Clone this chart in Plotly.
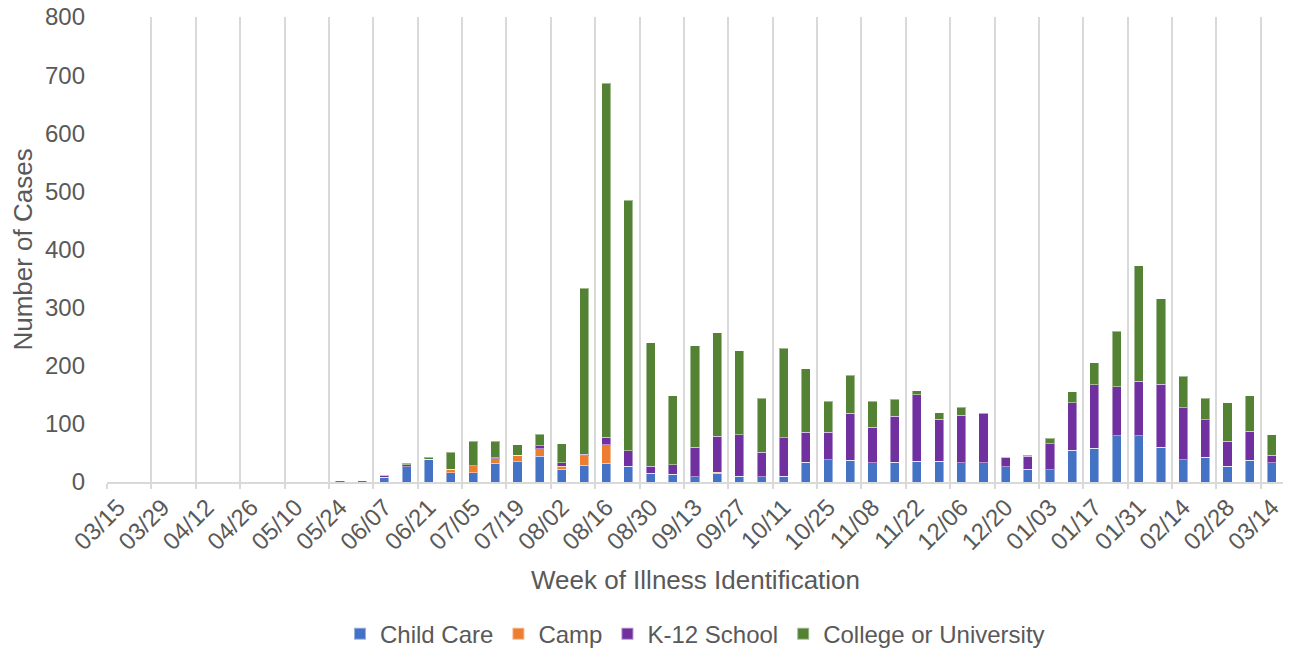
import plotly.graph_objects as go

weeks = ["03/15", "03/22", "03/29", "04/05", "04/12", "04/19", "04/26", "05/03", "05/10", "05/17",
         "05/24", "05/31", "06/07", "06/14", "06/21", "06/28", "07/05", "07/12", "07/19", "07/26",
         "08/02", "08/09", "08/16", "08/23", "08/30", "09/06", "09/13", "09/20", "09/27", "10/04",
         "10/11", "10/18", "10/25", "11/01", "11/08", "11/15", "11/22", "11/29", "12/06", "12/13",
         "12/20", "12/27", "01/03", "01/10", "01/17", "01/24", "01/31", "02/07", "02/14", "02/21",
         "02/28", "03/07", "03/14"]

child_care = [0, 0, 0, 0, 0, 0, 0, 0, 0, 0,
              2, 2, 8, 26, 39, 16, 16, 32, 35, 44,
              22, 29, 32, 27, 14, 13, 9, 15, 10, 9,
              10, 34, 38, 37, 33, 34, 36, 36, 33, 33,
              26, 22, 21, 55, 58, 80, 80, 60, 38, 43,
              27, 37, 33]

camp = [0, 0, 0, 0, 0, 0, 0, 0, 0, 0,
        0, 0, 0, 0, 0, 6, 12, 8, 11, 13,
        5, 16, 32, 0, 1, 0, 0, 2, 0, 0,
        0, 0, 0, 0, 0, 0, 0, 0, 0, 0,
        0, 0, 0, 0, 0, 0, 0, 0, 0, 0,
        0, 0, 0]

k12_school = [0, 0, 0, 0, 0, 0, 0, 0, 0, 0,
              0, 0, 4, 4, 0, 0, 0, 2, 0, 5,
              6, 3, 13, 27, 12, 17, 51, 62, 71, 42,
              66, 52, 48, 81, 61, 79, 114, 72, 82, 84,
              17, 22, 45, 81, 109, 84, 93, 108, 90, 64,
              43, 50, 13]

college = [0, 0, 0, 0, 0, 0, 0, 0, 0, 0,
           0, 0, 0, 2, 4, 29, 42, 28, 18, 20,
           33, 285, 609, 431, 213, 118, 174, 178, 145, 93,
           154, 109, 53, 66, 45, 29, 7, 11, 14, 1,
           0, 2, 9, 19, 38, 95, 199, 147, 54, 37,
           66, 61, 35]

series = [
    ("Child Care", child_care, "#4472C4"),
    ("Camp", camp, "#ED7D31"),
    ("K-12 School", k12_school, "#7030A0"),
    ("College or University", college, "#548235"),
]

TXT = "#595959"
GRID = "#D9D9D9"
FONT = "Liberation Sans, Arial, sans-serif"

fig = go.Figure()
for name, vals, color in series:
    fig.add_trace(go.Bar(
        x=weeks, y=vals, name=name,
        marker=dict(color=color, line=dict(color="rgba(255,255,255,0.45)", width=1)),
    ))

fig.update_layout(
    barmode="stack",
    bargap=0.59,
    width=1291, height=652,
    margin=dict(l=107, r=8, t=17, b=170, autoexpand=False),
    paper_bgcolor="white", plot_bgcolor="white",
    font=dict(family=FONT, color=TXT, size=24),
    showlegend=True,
    legend=dict(orientation="h", x=0.5, xanchor="center", y=-0.327, yanchor="middle",
                font=dict(size=24, color=TXT), traceorder="normal",
                itemsizing="constant", itemwidth=30),
    xaxis=dict(
        type="category", categoryorder="array", categoryarray=weeks,
        tickmode="linear", tick0=0, dtick=2, tickson="boundaries",
        tickangle=-45, tickfont=dict(size=24, color=TXT),
        showgrid=True, gridcolor=GRID, gridwidth=1.5,
        showline=True, linecolor=GRID, linewidth=1.5,
        ticks="outside", ticklen=5, tickcolor=GRID, tickwidth=1.5,
        zeroline=False, automargin=False,
    ),
    yaxis=dict(
        range=[0, 800], tickmode="linear", tick0=0, dtick=100,
        showgrid=False, zeroline=False, showline=False, automargin=False,
        tickfont=dict(size=24, color=TXT), ticks="", ticklabelstandoff=21,
    ),
    annotations=[
        dict(text="Week of Illness Identification", xref="paper", yref="paper",
             x=0.5, y=-0.2108, xanchor="center", yanchor="middle", showarrow=False,
             font=dict(size=26, color=TXT, family=FONT)),
        dict(text="Number of Cases", xref="paper", yref="paper",
             x=-0.0722, y=0.5, xanchor="center", yanchor="middle", textangle=-90,
             showarrow=False, font=dict(size=26, color=TXT, family=FONT)),
    ],
)

fig.write_html("out.html")
